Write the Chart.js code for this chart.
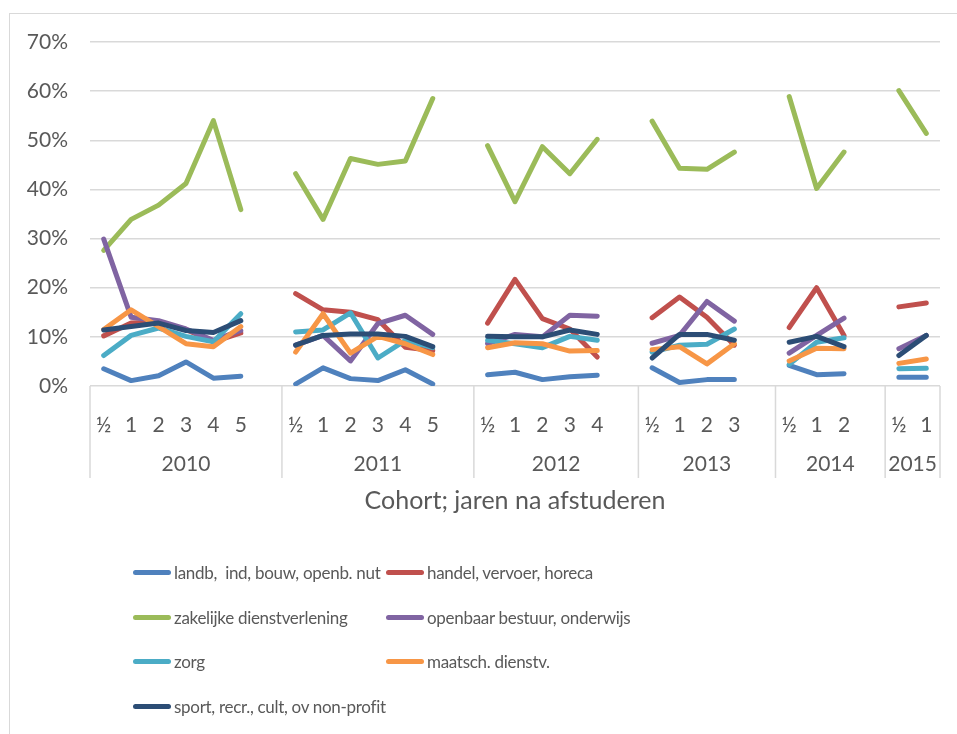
<!DOCTYPE html>
<html>
<head>
<meta charset="utf-8">
<script src="https://cdn.jsdelivr.net/npm/chart.js@4.4.1/dist/chart.umd.min.js"></script>
<style>
  html, body { margin: 0; padding: 0; background: #fff; overflow: hidden; }
  #wrap { position: relative; width: 957px; height: 734px; }
  #frame { position: absolute; left: 9px; top: 13px; width: 1000px; height: 800px; border-left: 1.5px solid #d9d9d9; border-top: 1.5px solid #d9d9d9; }
  #chart { position: absolute; left: 0; top: 0; }
  #legend { position: absolute; left: 133px; top: 550px; display: grid; grid-template-columns: 253px auto; font-family: Lato, sans-serif; font-size: 17px; letter-spacing: -0.3px; color: #595959; }
  .item { display: flex; align-items: center; height: 44.7px; white-space: pre; }
  .swatch { flex: 0 0 38px; height: 5px; border-radius: 3px; margin-right: 3px; }
</style>
</head>
<body>
<div id="wrap">
  <div id="frame"></div>
  <canvas id="chart" width="957" height="734"></canvas>
  <div id="legend"></div>
</div>
<script>
// categories: years after graduation, per cohort ('' = spacer between cohorts)
const labels = [
  '½', '1', '2', '3', '4', '5', '',
  '½', '1', '2', '3', '4', '5', '',
  '½', '1', '2', '3', '4', '',
  '½', '1', '2', '3', '',
  '½', '1', '2', '',
  '½', '1'
];
const groupNames = ['2010', '2011', '2012', '2013', '2014', '2015'];
const groupSizes = [7, 7, 6, 5, 4, 2];

// percentages per sector
const landb = [
  3.5, 1.1, 2.1, 4.9, 1.6, 2.0, null,
  0.4, 3.7, 1.5, 1.1, 3.3, 0.4, null,
  2.3, 2.8, 1.3, 1.9, 2.2, null,
  3.7, 0.7, 1.3, 1.3, null,
  4.2, 2.3, 2.5, null,
  1.8, 1.8
];
const handel = [
  10.2, 12.8, 13.0, 11.5, 9.0, 10.8, null,
  18.8, 15.5, 15.0, 13.5, 7.9, 7.2, null,
  12.8, 21.7, 13.7, 11.6, 5.9, null,
  13.9, 18.1, 14.0, 8.3, null,
  11.9, 20.0, 10.3, null,
  16.1, 16.9
];
const zakelijk = [
  27.6, 33.9, 36.8, 41.2, 54.0, 35.9, null,
  43.2, 33.9, 46.3, 45.1, 45.8, 58.5, null,
  48.9, 37.5, 48.7, 43.2, 50.2, null,
  53.9, 44.3, 44.1, 47.6, null,
  58.9, 40.2, 47.6, null,
  60.1, 51.4
];
const openbaar = [
  29.9, 14.0, 13.3, 11.6, 9.3, 11.3, null,
  8.3, 10.3, 5.1, 12.7, 14.4, 10.5, null,
  8.6, 10.5, 10.0, 14.4, 14.2, null,
  8.7, 10.3, 17.2, 13.2, null,
  6.7, 10.3, 13.8, null,
  7.6, 10.3
];
const zorg = [
  6.2, 10.3, 11.8, 10.1, 9.0, 14.7, null,
  11.0, 11.4, 14.9, 5.7, 9.3, 7.8, null,
  9.3, 8.6, 7.8, 10.1, 9.3, null,
  6.9, 8.3, 8.5, 11.6, null,
  4.4, 8.9, 9.8, null,
  3.5, 3.6
];
const maatsch = [
  11.5, 15.5, 12.1, 8.6, 8.0, 12.1, null,
  6.9, 14.7, 6.7, 10.1, 8.6, 6.4, null,
  7.8, 8.8, 8.6, 7.1, 7.2, null,
  7.4, 8.0, 4.5, 8.6, null,
  5.1, 7.7, 7.6, null,
  4.6, 5.5
];
const sport = [
  11.4, 12.1, 12.8, 11.3, 10.9, 13.3, null,
  8.3, 10.3, 10.6, 10.6, 10.1, 8.0, null,
  10.1, 10.0, 10.0, 11.4, 10.5, null,
  5.7, 10.5, 10.5, 9.3, null,
  8.9, 10.1, 8.0, null,
  6.2, 10.3
];

const seriesNames = [
  'landb,  ind, bouw, openb. nut', 'handel, vervoer, horeca',
  'zakelijke dienstverlening', 'openbaar bestuur, onderwijs',
  'zorg', 'maatsch. dienstv.', 'sport, recr., cult, ov non-profit'
];
const seriesData = [landb, handel, zakelijk, openbaar, zorg, maatsch, sport];
const seriesColors = ['#4F81BD', '#C0504D', '#9BBB59', '#8064A2', '#4BACC6', '#F79646', '#2C4D75'];

const textColor = '#595959';
const gridColor = '#d9d9d9';
const fontFamily = 'Lato, sans-serif';

// cohort labels and separators under the category axis
const groupAxis = {
  id: 'groupAxis',
  afterDraw(chart) {
    const x = chart.scales.x;
    const ctx = chart.ctx;
    const half = (x.getPixelForValue(1) - x.getPixelForValue(0)) / 2;
    ctx.save();
    ctx.strokeStyle = gridColor;
    ctx.lineWidth = 1.5;
    ctx.fillStyle = textColor;
    ctx.font = '21px ' + fontFamily;
    ctx.textAlign = 'center';
    ctx.textBaseline = 'middle';
    let start = 0;
    let right = x.left;
    groupSizes.forEach((n, g) => {
      const left = x.getPixelForValue(start) - half;
      right = Math.min(x.getPixelForValue(start + n - 1) + half, x.right);
      ctx.beginPath();
      ctx.moveTo(left, x.top);
      ctx.lineTo(left, x.top + 92);
      ctx.stroke();
      ctx.fillText(groupNames[g], (left + right) / 2, x.top + 78);
      start += n;
    });
    ctx.beginPath();
    ctx.moveTo(right, x.top);
    ctx.lineTo(right, x.top + 92);
    ctx.stroke();
    ctx.restore();
  }
};

const chart = new Chart(document.getElementById('chart'), {
  type: 'line',
  data: {
    labels: labels,
    datasets: seriesData.map((d, i) => ({
      label: seriesNames[i],
      data: d,
      order: seriesData.length - i, // later series on top, like the original
      borderColor: seriesColors[i],
      backgroundColor: seriesColors[i],
      borderWidth: 5,
      borderCapStyle: 'round',
      borderJoinStyle: 'round',
      pointRadius: 0,
      spanGaps: false,
      tension: 0
    }))
  },
  options: {
    responsive: false,
    animation: false,
    layout: { padding: { left: 10, top: 42, right: 17, bottom: 218 } },
    plugins: { legend: { display: false }, tooltip: { enabled: false } },
    scales: {
      x: {
        offset: true,
        grid: { display: false },
        border: { display: false },
        ticks: { color: textColor, font: { family: fontFamily, size: 21 }, padding: 19, maxRotation: 0, autoSkip: false },
        title: { display: true, text: 'Cohort; jaren na afstuderen', color: textColor, font: { family: fontFamily, size: 25 }, padding: { top: 0, bottom: 0 } },
        afterFit(scale) { scale.height = 130; }
      },
      y: {
        min: 0,
        max: 70,
        grid: { color: gridColor, lineWidth: 1.5, drawTicks: false },
        border: { display: false },
        ticks: { stepSize: 10, color: textColor, font: { family: fontFamily, size: 21 }, padding: 22, callback: v => v + '%' },
        afterFit(scale) { scale.width = 80; }
      }
    }
  },
  plugins: [groupAxis]
});

// legend in two columns, built from the datasets
const legend = document.getElementById('legend');
chart.data.datasets.forEach(ds => {
  const item = document.createElement('div');
  item.className = 'item';
  item.innerHTML = `<span class="swatch" style="background:${ds.borderColor}"></span><span>${ds.label}</span>`;
  legend.appendChild(item);
});
</script>
</body>
</html>
